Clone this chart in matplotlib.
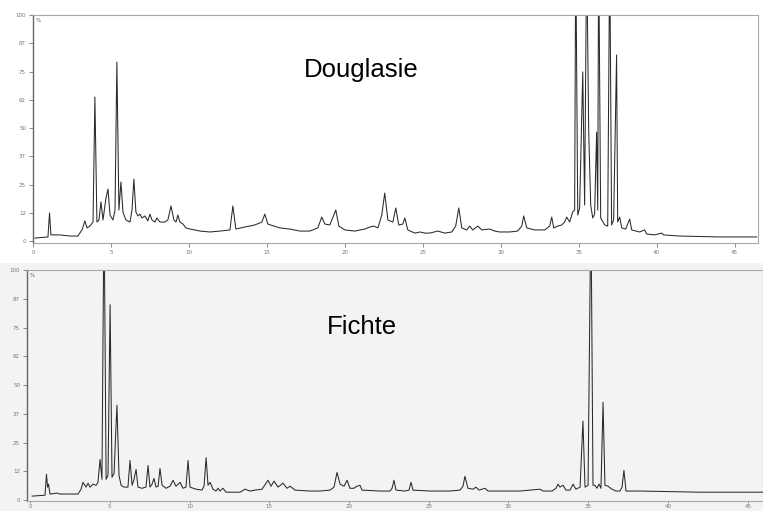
import matplotlib.pyplot as plt
from matplotlib.patches import Rectangle

# Douglasie trace (retention time in min, relative abundance in %)
doug_t = [0.13, 0.96, 1.06, 1.15, 1.73, 2.37, 2.88, 3.14, 3.33, 3.46, 3.65, 3.85, 3.97, 4.10, 4.23,
          4.36, 4.49, 4.68, 4.81, 4.94, 5.13, 5.26, 5.38, 5.51, 5.64, 5.77, 5.96, 6.22, 6.35, 6.47,
          6.60, 6.73, 6.86, 6.99, 7.18, 7.37, 7.50, 7.63, 7.82, 7.95, 8.14, 8.46, 8.65, 8.85, 9.04,
          9.17, 9.29, 9.42, 9.62, 9.81, 10.06, 10.38, 10.71, 11.35, 11.99, 12.63, 12.82, 13.01, 13.59,
          14.23, 14.68, 14.87, 15.06, 15.83, 16.47, 17.11, 17.76, 18.27, 18.52, 18.72, 19.04, 19.42,
          19.62, 20.00, 20.64, 21.28, 21.60, 21.86, 22.12, 22.37, 22.56, 22.76, 23.08, 23.27, 23.46,
          23.72, 23.85, 24.04, 24.49, 24.81, 25.13, 25.45, 25.96, 26.41, 26.86, 27.11, 27.31, 27.50,
          27.82, 28.01, 28.21, 28.53, 28.78, 29.29, 29.61, 29.94, 30.58, 31.09, 31.35, 31.47, 31.67,
          32.18, 32.82, 33.14, 33.27, 33.40, 33.65, 33.91, 34.10, 34.23, 34.42, 34.61, 34.74, 34.81,
          34.94, 35.06, 35.26, 35.38, 35.51, 35.64, 35.77, 35.90, 36.02, 36.15, 36.22, 36.28, 36.41,
          36.67, 36.86, 36.99, 37.11, 37.24, 37.43, 37.50, 37.63, 37.76, 38.01, 38.27, 38.40, 38.91,
          39.23, 39.36, 39.87, 40.32, 40.45, 41.47, 44.04, 46.41]
doug_y = [1.3, 1.8, 12.4, 2.7, 2.7, 2.2, 2.2, 4.9, 8.9, 5.8, 6.6, 8.4, 63.7, 8.4, 9.3,
          17.3, 9.3, 19.0, 23.0, 11.5, 9.3, 13.7, 79.2, 13.7, 26.1, 12.8, 9.3, 8.4, 13.7, 27.4,
          12.8, 11.1, 11.9, 10.2, 11.1, 8.9, 11.9, 9.3, 8.4, 10.2, 8.4, 8.4, 9.3, 15.5, 9.3,
          8.4, 11.5, 8.4, 7.5, 5.8, 5.3, 4.9, 4.4, 4.0, 4.4, 4.9, 15.5, 5.3, 6.2,
          7.1, 8.4, 11.9, 7.5, 5.8, 5.3, 4.4, 4.4, 5.8, 10.6, 7.5, 7.1, 13.7,
          6.6, 4.9, 4.4, 5.3, 6.2, 6.6, 5.8, 11.5, 21.2, 9.3, 8.4, 14.6, 7.1,
          7.5, 10.2, 4.9, 3.5, 4.0, 3.5, 3.5, 4.4, 3.5, 4.0, 6.6, 14.6, 5.8,
          4.9, 6.6, 4.9, 6.6, 4.9, 5.3, 4.4, 4.0, 4.0, 4.4, 6.6, 11.1, 5.8,
          4.9, 4.9, 6.6, 10.6, 5.8, 6.6, 7.1, 8.4, 10.6, 8.4, 12.8, 13.7, 130,
          11.5, 14.6, 74.8, 15.9, 130, 49.1, 15.9, 10.2, 11.9, 48.2, 13.7, 130, 10.2,
          7.1, 6.6, 130, 7.1, 9.3, 82.3, 8.4, 10.6, 5.8, 5.3, 9.7, 4.9, 4.0,
          4.9, 3.1, 2.7, 3.5, 2.7, 2.2, 1.8, 1.8]

# Fichte trace
fich_t = [0.13, 0.94, 1.03, 1.10, 1.16, 1.25, 1.69, 1.88, 3.01, 3.20, 3.32, 3.51, 3.64, 3.76, 3.95,
          4.14, 4.26, 4.39, 4.51, 4.64, 4.77, 4.89, 5.02, 5.14, 5.27, 5.36, 5.45, 5.58, 5.71, 5.89,
          6.14, 6.27, 6.40, 6.52, 6.65, 6.77, 7.02, 7.27, 7.40, 7.52, 7.65, 7.77, 7.90, 8.03, 8.15,
          8.28, 8.53, 8.78, 8.97, 9.15, 9.41, 9.59, 9.78, 9.91, 10.03, 10.41, 10.78, 10.91, 11.04,
          11.16, 11.29, 11.47, 11.66, 11.79, 11.91, 12.10, 12.29, 13.17, 13.48, 13.79, 14.11, 14.55,
          14.92, 15.11, 15.30, 15.55, 15.86, 16.11, 16.30, 16.62, 17.56, 18.18, 18.81, 19.06, 19.25,
          19.44, 19.69, 19.88, 20.06, 20.31, 20.50, 20.69, 20.82, 21.95, 22.57, 22.70, 22.82, 22.95,
          23.51, 23.76, 23.89, 24.01, 25.08, 26.33, 26.96, 27.15, 27.27, 27.46, 27.78, 27.96, 28.15,
          28.53, 28.72, 29.47, 30.72, 31.98, 32.17, 32.73, 32.98, 33.11, 33.23, 33.42, 33.61, 33.86,
          34.05, 34.23, 34.49, 34.67, 34.80, 34.99, 35.17, 35.30, 35.42, 35.55, 35.68, 35.80, 35.93,
          36.05, 36.24, 36.49, 36.74, 36.99, 37.12, 37.24, 37.37, 38.25, 42.01, 45.96]
fich_y = [1.7, 2.1, 11.2, 5.6, 6.9, 2.6, 3.0, 2.6, 2.6, 4.7, 7.7, 5.6, 7.3, 5.6, 6.9,
          6.4, 7.7, 17.6, 9.0, 130, 9.0, 10.7, 84.9, 9.9, 11.6, 27.0, 41.2, 10.7, 6.4, 5.6,
          5.6, 17.2, 6.4, 9.0, 13.3, 5.6, 5.1, 5.6, 15.0, 5.6, 6.9, 9.4, 5.6, 6.0, 13.7,
          6.4, 5.1, 6.0, 8.6, 6.0, 7.7, 5.1, 5.6, 17.2, 5.6, 4.7, 4.3, 6.0, 18.4,
          6.4, 7.7, 4.7, 3.9, 5.1, 3.9, 5.1, 3.4, 3.4, 4.7, 3.9, 4.3, 4.7,
          8.6, 6.0, 8.2, 5.6, 7.3, 5.1, 6.0, 4.3, 3.9, 3.9, 4.3, 5.6, 12.0,
          6.9, 6.0, 8.6, 5.1, 5.1, 6.0, 6.4, 4.3, 3.9, 3.9, 5.1, 8.6, 4.3,
          3.9, 4.3, 7.7, 4.3, 3.9, 3.9, 4.3, 6.0, 10.3, 5.1, 4.7, 5.6, 4.3,
          5.1, 3.9, 3.9, 3.9, 4.7, 3.9, 3.9, 5.1, 6.9, 5.6, 6.4, 4.3, 4.3,
          6.9, 4.7, 5.6, 34.3, 5.6, 6.4, 130, 6.4, 6.4, 5.1, 6.9, 5.1, 42.5,
          6.4, 6.0, 4.7, 3.9, 3.9, 5.6, 12.9, 3.9, 3.9, 3.4, 3.4]

ytick_vals = [0, 12.5, 25, 37.5, 50, 62.5, 75, 87.5, 100]
ytick_labels = ['0', '12', '25', '37', '50', '62', '75', '87', '100']
xtick_vals = [0, 5, 10, 15, 20, 25, 30, 35, 40, 45]

fig = plt.figure(figsize=(7.63, 5.11), dpi=100)
fig.patch.set_facecolor('white')
fig.patches.append(Rectangle((0, 0), 1, 1 - 263 / 511, transform=fig.transFigure,
                             facecolor='#f3f3f1', edgecolor='none', zorder=-5))


def style(ax, tick_len=3, tick_pad=2):
    ax.set_facecolor('none')
    ax.set_zorder(2)
    for s in ['top', 'right', 'bottom']:
        ax.spines[s].set_color('#a8a8a8')
        ax.spines[s].set_linewidth(0.8)
    ax.spines['left'].set_color('#666666')
    ax.spines['left'].set_linewidth(1.0)
    ax.set_yticks(ytick_vals)
    ax.set_yticklabels(ytick_labels)
    ax.set_xticks(xtick_vals)
    ax.set_xticklabels([str(v) for v in xtick_vals])
    ax.tick_params(axis='both', labelsize=4, colors='#777777', length=3, width=0.6, pad=2)
    ax.tick_params(axis='x', length=tick_len, pad=tick_pad)
    ax.text(0.004, 0.985, '%', transform=ax.transAxes, fontsize=4, color='#555555', va='top')


ax1 = fig.add_axes([33 / 763, 1 - 243 / 511, 725 / 763, 228 / 511])
ax1.plot(doug_t, doug_y, color='#2a2a2a', linewidth=0.75)
ax1.set_xlim(0, 46.5)
ax1.set_ylim(-0.88, 100)
style(ax1)
fig.text(361 / 763, 1 - 77 / 511, 'Douglasie', fontsize=18.5, family='Liberation Sans',
         ha='center', va='baseline', color='black')

ax2 = fig.add_axes([27 / 763, 1 - 501 / 511, 736 / 763, 231 / 511])
ax2.plot(fich_t, fich_y, color='#2a2a2a', linewidth=0.75)
ax2.set_xlim(-0.19, 45.96)
ax2.set_ylim(-0.43, 100)
style(ax2, tick_len=1.5, tick_pad=0.5)
fig.text(362 / 763, 1 - 334 / 511, 'Fichte', fontsize=18.5, family='Liberation Sans',
         ha='center', va='baseline', color='black')

fig.savefig('out.png', dpi=100)
